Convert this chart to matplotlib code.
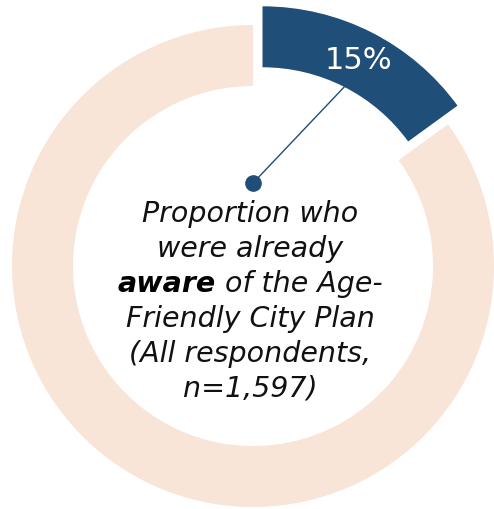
import numpy as np
import matplotlib
matplotlib.use('Agg')
import matplotlib.pyplot as plt

# dados
categorias = ['Aware', 'Not aware']
valores = [15, 85]
cores = ['#1f4e79', '#f9e4d8']
rotulo = '15%'
linhas_texto = ['Proportion who', 'were already', None, 'Friendly City Plan',
                '(All respondents,', 'n=1,597)']
linha_negrito = ['aware', ' of the Age-']

fonte = 'DejaVu Sans'
fs = 20.5

fig = plt.figure(figsize=(4.94, 5.10), dpi=100)
ax = fig.add_axes([0, 0, 1, 1])

explode_d = 0.087
largura = 0.253
wedges, _ = ax.pie(valores, colors=cores, startangle=90, counterclock=False,
                   explode=[explode_d, 0], radius=1.0,
                   wedgeprops=dict(width=largura, linewidth=0))

ax.set_xlim(-253 / 241, (494 - 253) / 241)
ax.set_ylim((267 - 510) / 241, 267 / 241)
ax.set_aspect('auto')
ax.axis('off')

# angulo do meio da primeira fatia
w = wedges[0]
ang = np.deg2rad((w.theta1 + w.theta2) / 2)
cx, cy = w.center
r_in = 1.0 - largura
r_mid = 1.0 - largura / 2

# rotulo percentual
ax.text(cx + r_mid * np.cos(ang), cy + r_mid * np.sin(ang), rotulo,
        color='white', fontsize=22, family=fonte, ha='center', va='center')

# linha e ponto
px, py = 0, 0.344
ax.plot([px, cx + r_in * np.cos(ang)], [py, cy + r_in * np.sin(ang)],
        color=cores[0], lw=1)
ax.plot(px, py, 'o', color=cores[0], ms=11)

# texto central
def ypix(p):
    return (267 - p) / 241

bases = [222, 257, 292, 327, 362, 397]
cor_txt = '#111111'
for t, b in zip(linhas_texto, bases):
    if t is not None:
        ax.text(-3 / 241, ypix(b), t, ha='center', va='baseline', fontsize=fs,
                family=fonte, style='italic', color=cor_txt)

# linha mista negrito / normal
t1 = ax.text(0, ypix(bases[2]), linha_negrito[0], ha='left', va='baseline',
             fontsize=fs, family=fonte, style='italic', weight='bold', color='black')
t2 = ax.text(0, ypix(bases[2]), linha_negrito[1], ha='left', va='baseline',
             fontsize=fs, family=fonte, style='italic', color=cor_txt)
fig.canvas.draw()
r = fig.canvas.get_renderer()
w1 = t1.get_window_extent(r).width
w2 = t2.get_window_extent(r).width
tot = (w1 + w2) / 241
x0 = -tot / 2 - 3 / 241
t1.set_x(x0)
t2.set_x(x0 + w1 / 241)

fig.savefig('out.png', dpi=100, facecolor='white')
